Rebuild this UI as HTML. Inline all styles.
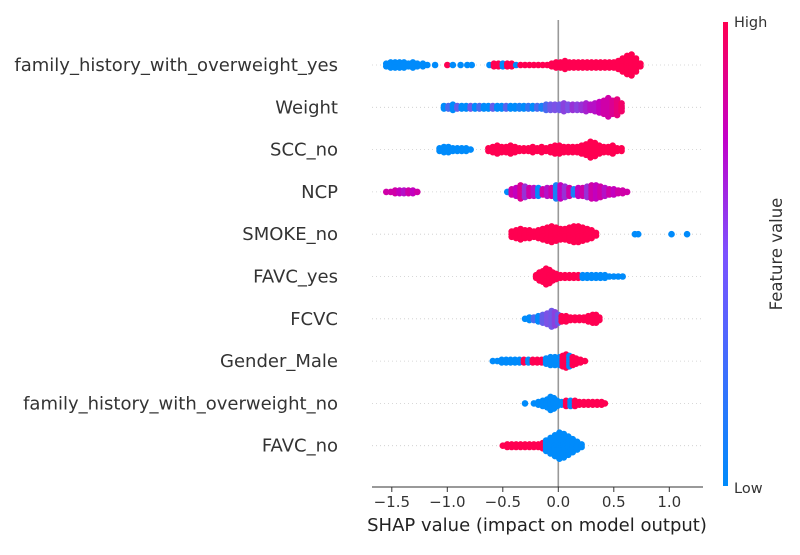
<!DOCTYPE html>
<html><head><meta charset="utf-8">
<style>
body{margin:0;background:#fff;}
svg text{font-family:"DejaVu Sans","Liberation Sans",sans-serif;}
</style></head>
<body>
<svg id="chart" width="800" height="550" viewBox="0 0 800 550" xmlns="http://www.w3.org/2000/svg">
<defs>
<linearGradient id="cbgrad" x1="0" y1="1" x2="0" y2="0">
<stop offset="0" stop-color="#008bfb"/>
<stop offset="0.5" stop-color="#7c52ff"/>
<stop offset="0.75" stop-color="#c300c8"/>
<stop offset="1" stop-color="#ff0051"/>
</linearGradient>
</defs>
<g id="grid"></g>
<line x1="558.3" y1="20" x2="558.3" y2="487" stroke="#999" stroke-width="1.6"/>
<g id="points"></g>
<g id="labels"></g>
<line x1="372" y1="487" x2="703" y2="487" stroke="#333" stroke-width="1"/>
<g id="ticks"></g>
<text x="537" y="531" font-size="18" text-anchor="middle" fill="#222">SHAP value (impact on model output)</text>
<rect x="723" y="22" width="5" height="464" fill="url(#cbgrad)"/>
<text x="734" y="27" font-size="14.5" fill="#333">High</text>
<text x="734" y="493" font-size="14.5" fill="#333">Low</text>
<text transform="translate(782,254) rotate(-90)" font-size="16.5" text-anchor="middle" fill="#333">Feature value</text>
</svg>
<script>
const features=["family_history_with_overweight_yes","Weight","SCC_no","NCP","SMOKE_no","FAVC_yes","FCVC","Gender_Male","family_history_with_overweight_no","FAVC_no"];
const xTicks=[-1.5,-1.0,-0.5,0.0,0.5,1.0];
const xTickLabels=["\u22121.5","\u22121.0","\u22120.5","0.0","0.5","1.0"];
// [shap value, dot count, feature value 0..1]
const famYes=[[-1.55,2,0],[-1.51,3,0],[-1.47,3,0],[-1.43,3,0],[-1.39,3,0],[-1.35,2,0],[-1.31,3,0],[-1.27,2,0],[-1.22,2,0],[-1.18,1,0],[-1.11,1,0],[-1.0,1,1],[-0.95,1,0],[-0.88,1,0],[-0.82,1,0],[-0.78,1,0],[-0.62,1,0],[-0.58,2,1],[-0.54,2,1],[-0.5,2,0],[-0.46,2,1],[-0.42,2,1],[-0.38,1,0],[-0.34,1,1],[-0.3,1,1],[-0.26,1,1],[-0.22,1,1],[-0.18,1,1],[-0.14,1,1],[-0.1,1,1],[-0.06,2,1],[-0.02,3,1],[0.02,3,1],[0.06,4,1],[0.1,3,1],[0.14,3,1],[0.18,3,1],[0.22,3,1],[0.26,3,1],[0.3,3,1],[0.34,3,1],[0.38,3,1],[0.42,3,1],[0.46,3,1],[0.5,3,1],[0.54,4,1],[0.58,6,1],[0.62,8,1],[0.66,9,1],[0.7,6,1],[0.74,2,1]];
const weight=[[-1.03,2,0],[-0.99,2,0.3],[-0.95,3,0],[-0.91,2,0.4],[-0.87,2,0],[-0.83,2,0],[-0.79,2,0.45],[-0.75,2,0],[-0.71,2,0.3],[-0.67,2,0],[-0.63,2,0],[-0.59,2,0.4],[-0.55,2,0],[-0.51,2,0],[-0.47,2,0.35],[-0.43,2,0],[-0.39,2,0],[-0.35,2,0.1],[-0.31,2,0],[-0.27,2,0.2],[-0.23,2,0],[-0.19,2,0.3],[-0.15,2,0.1],[-0.11,3,0.3],[-0.07,3,0.45],[-0.03,3,0.5],[0.01,3,0.45],[0.05,4,0.55],[0.09,3,0.5],[0.13,3,0.6],[0.17,3,0.55],[0.21,3,0.6],[0.25,4,0.65],[0.29,3,0.7],[0.33,4,0.7],[0.37,5,0.75],[0.41,6,0.8],[0.45,8,0.8],[0.49,6,0.85],[0.53,7,0.9],[0.57,4,0.95]];
const sccNo=[[-1.07,2,0],[-1.03,3,0],[-0.99,3,0],[-0.95,2,0],[-0.91,2,0],[-0.87,2,0],[-0.83,2,0],[-0.79,1,0],[-0.63,2,1],[-0.59,3,1],[-0.55,4,1],[-0.51,3,1],[-0.47,3,1],[-0.43,4,1],[-0.39,3,1],[-0.35,2,1],[-0.31,2,1],[-0.27,2,1],[-0.23,3,1],[-0.19,2,1],[-0.15,3,1],[-0.11,2,1],[-0.07,3,1],[-0.03,4,1],[0.01,4,1],[0.05,3,1],[0.09,3,1],[0.13,3,1],[0.17,3,1],[0.21,4,1],[0.25,5,1],[0.29,7,1],[0.33,6,1],[0.37,4,1],[0.41,3,1],[0.45,3,1],[0.49,4,1],[0.53,2,1],[0.57,2,1]];
const ncp=[[-1.55,1,0.8],[-1.51,1,0.8],[-1.47,2,0.8],[-1.43,2,0.75],[-1.39,2,0.7],[-1.35,2,0.8],[-1.31,2,0.75],[-1.27,1,0.8],[-0.46,1,0],[-0.42,3,0.8],[-0.38,4,0.75],[-0.34,6,0.85],[-0.3,5,0.6],[-0.26,4,0.8],[-0.22,4,0.7],[-0.18,4,0],[-0.14,3,0.8],[-0.1,4,0.7],[-0.06,4,0.8],[-0.02,6,0.1],[0.02,6,0.75],[0.06,5,0.6],[0.1,4,0.8],[0.14,3,0.1],[0.18,4,0.75],[0.22,4,0.8],[0.26,5,0.6],[0.3,6,0.8],[0.34,6,0.75],[0.38,5,0.8],[0.42,4,0.7],[0.46,3,0.8],[0.5,3,0.75],[0.54,2,0.8],[0.58,2,0.8],[0.62,1,0.8]];
const smokeNo=[[-0.42,3,1],[-0.38,4,1],[-0.34,5,1],[-0.3,4,1],[-0.26,4,1],[-0.22,3,1],[-0.18,4,1],[-0.14,5,1],[-0.1,6,1],[-0.06,7,1],[-0.02,6,1],[0.02,5,1],[0.06,5,1],[0.1,6,1],[0.14,7,1],[0.18,7,1],[0.22,6,1],[0.26,5,1],[0.3,4,1],[0.34,2,1],[0.69,1,0],[0.72,1,0],[1.02,1,0],[1.16,1,0]];
const favcYes=[[-0.2,2,1],[-0.17,4,1],[-0.14,5,1],[-0.11,7,1],[-0.08,6,1],[-0.05,4,1],[-0.02,3,1],[0.02,2,1],[0.06,2,1],[0.1,2,1],[0.14,2,1],[0.18,2,1],[0.22,2,0],[0.26,2,0],[0.3,2,0],[0.34,2,0],[0.38,2,0],[0.42,2,0],[0.46,1,0],[0.5,1,0],[0.54,1,0],[0.58,1,0]];
const fcvc=[[-0.3,1,0],[-0.26,2,0],[-0.22,2,0.3],[-0.18,3,0],[-0.14,4,0.4],[-0.1,5,0.5],[-0.06,7,0.45],[-0.03,6,0.55],[0.0,4,0.4],[0.03,3,1],[0.07,3,1],[0.11,2,1],[0.15,2,1],[0.19,2,1],[0.23,2,1],[0.27,3,1],[0.31,4,1],[0.34,4,1],[0.37,2,1]];
const genderMale=[[-0.59,1,0],[-0.55,1,0],[-0.51,2,0],[-0.47,2,0],[-0.43,2,0],[-0.39,2,0],[-0.35,2,0],[-0.31,2,1],[-0.27,2,0],[-0.23,2,1],[-0.19,2,1],[-0.15,2,1],[-0.11,3,0],[-0.07,4,0],[-0.03,4,0],[0.01,4,0],[0.04,5,1],[0.07,6,1],[0.1,5,0],[0.13,4,1],[0.16,3,1],[0.2,2,1],[0.24,1,1]];
const famNo=[[-0.3,1,0],[-0.22,1,0],[-0.18,2,0],[-0.14,3,0],[-0.1,4,0],[-0.07,6,0],[-0.04,5,0],[-0.01,3,0],[0.03,2,0],[0.07,3,1],[0.11,3,0],[0.15,3,1],[0.19,2,1],[0.23,2,1],[0.27,2,1],[0.31,2,1],[0.35,2,1],[0.39,2,1],[0.42,1,1]];
const favcNo=[[-0.5,1,1],[-0.46,2,1],[-0.42,2,1],[-0.38,2,1],[-0.34,2,1],[-0.3,2,1],[-0.26,2,1],[-0.22,2,1],[-0.18,2,1],[-0.14,3,1],[-0.11,5,0],[-0.07,7,0],[-0.03,9,0],[0.01,11,0],[0.05,10,0],[0.09,8,0],[0.13,6,0],[0.17,4,0],[0.21,2,0]];
const rowsData=[famYes,weight,sccNo,ncp,smokeNo,favcYes,fcvc,genderMale,famNo,favcNo];

const NS="http://www.w3.org/2000/svg";
const X0=558.3, PX=111;
function xScale(v){return X0+PX*v;}
function yScale(i){return 65+i*42.3;}
function color(t){
  const stops=[[0,[0,139,251]],[0.5,[124,82,230]],[0.75,[195,0,190]],[1,[255,0,81]]];
  for(let k=1;k<stops.length;k++){
    if(t<=stops[k][0]){
      const a=stops[k-1],b=stops[k],f=(t-a[0])/(b[0]-a[0]);
      const c=a[1].map((v,j)=>Math.round(v+(b[1][j]-v)*f));
      return "rgb("+c.join(",")+")";
    }
  }
  return "rgb(255,0,81)";
}
const grid=document.getElementById('grid'),pts=document.getElementById('points'),lab=document.getElementById('labels'),tk=document.getElementById('ticks');
features.forEach((f,i)=>{
  const y=yScale(i);
  const gl=document.createElementNS(NS,'line');
  
  
  gl.setAttribute('x1',372);gl.setAttribute('x2',703);gl.setAttribute('y1',y);gl.setAttribute('y2',y);
  gl.setAttribute('stroke','#ccc');gl.setAttribute('stroke-width','0.8');gl.setAttribute('stroke-dasharray','1,3');
  grid.appendChild(gl);
  const t=document.createElementNS(NS,'text');
  
  
  t.setAttribute('x',338);t.setAttribute('y',y+6);t.setAttribute('text-anchor','end');
  t.setAttribute('font-size','18');t.setAttribute('fill','#333');
  t.textContent=f;lab.appendChild(t);
  const g=document.createElementNS(NS,'g');
  
  
  rowsData[i].forEach(d=>{
    const n=d[1];
    for(let k=0;k<n;k++){
      const c=document.createElementNS(NS,'circle');
      
      
      c.setAttribute('cx',xScale(d[0]));
      c.setAttribute('cy',y+(k-(n-1)/2)*2.6);
      c.setAttribute('r',3.3);
      c.setAttribute('fill',color(d[2]));
      g.appendChild(c);
    }
  });
  pts.appendChild(g);
});
xTicks.forEach((v,i)=>{
  const x=xScale(v);
  const l=document.createElementNS(NS,'line');
  
  
  l.setAttribute('x1',x);l.setAttribute('x2',x);l.setAttribute('y1',487);l.setAttribute('y2',492);
  l.setAttribute('stroke','#333');tk.appendChild(l);
  const t=document.createElementNS(NS,'text');
  
  
  t.setAttribute('x',x);t.setAttribute('y',507);t.setAttribute('text-anchor','middle');
  t.setAttribute('font-size','15');t.setAttribute('fill','#333');
  t.textContent=xTickLabels[i];tk.appendChild(t);
});
</script>
</body></html>
